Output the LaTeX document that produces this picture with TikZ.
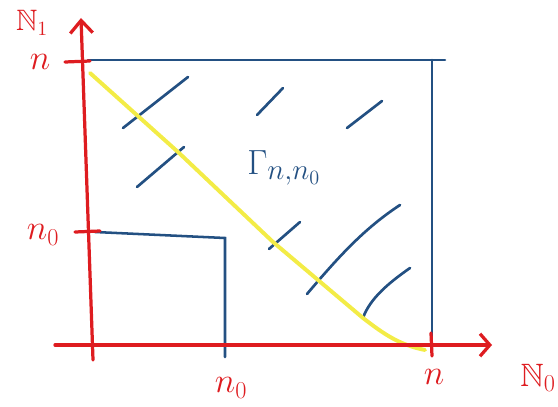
\documentclass[tikz,border=0pt]{standalone}
\usepackage{amsmath,amssymb}
\usepackage{tikz}
\usetikzlibrary{arrows.meta,positioning}
\definecolor{axisred}{RGB}{222,28,32}
\definecolor{penblue}{RGB}{35,80,130}
\definecolor{penyellow}{RGB}{243,236,70}

\begin{document}
\begin{tikzpicture}[x=0.025cm,y=-0.025cm,
  axis/.style={axisred, line width=2.3pt, line cap=round},
  pen/.style={penblue, line width=1.8pt, line cap=round},
  hatch/.style={penblue, line width=1.9pt, line cap=round},
  lbl/.style={axisred, inner sep=0.5pt, font=\fontsize{23}{27}\selectfont},
  blbl/.style={penblue, inner sep=1pt, font=\fontsize{30}{34}\selectfont}]
\useasboundingbox (0,0) rectangle (558,407);

% Named points of the axes
\coordinate (o) at (92,345);
\coordinate (ytop) at (81,18);
\coordinate (ybot) at (93,360);
\coordinate (xleft) at (55,345);
\coordinate (xtip) at (492,345);

% Blue region (outer square and small square)
\draw[pen] (88,60) -- (445,60);
\draw[pen] (432,60) -- (432,345);
\draw[pen] (95,232) -- (225,238) -- (225,357);

% Hatching
\draw[hatch] (123,128) -- (188,77);
\draw[hatch] (137,187) -- (184,147);
\draw[hatch] (257,115) -- (283,88);
\draw[hatch] (347,128) -- (382,101);
\draw[hatch] (269,249) -- (300,222);
\draw[hatch] (307,294) .. controls (340,255) and (365,228) .. (400,205);
\draw[hatch] (363,318) .. controls (370,298) and (390,282) .. (410,268);

% Yellow diagonal
\draw[penyellow, line width=2.8pt, line cap=round]
  (90,73) -- (178,152) -- (273,242) -- (363,318)
  .. controls (385,335) and (400,345) .. (425,350);

% Axes with ticks
\draw[axis, -{Straight Barb[length=9pt,width=16pt]}] (ybot) -- (ytop);
\draw[axis, -{Straight Barb[length=7pt,width=16pt]}] (xleft) -- (xtip);
\draw[axis] (65,62) -- (90,61);
\draw[axis] (75,232) -- (100,231);
\draw[axis] (431,333) -- (432,356);

% Labels
\node[lbl, font=\fontsize{21}{25}\selectfont] (None) at (32,23) {$\mathbb{N}_1$};
\node[lbl] (ntop) at (40,62) {$n$};
\node[lbl] (nzleft) at (43,235) {$n_0$};
\node[lbl] (nzbot) at (231,388) {$n_0$};
\node[lbl] (nbot) at (434,377) {$n$};
\node[lbl] (Nzero) at (538,378) {$\mathbb{N}_0$};
\node[blbl] (gamma) at (284,168) {$\Gamma_{n,n_0}$};
\end{tikzpicture}
\end{document}
